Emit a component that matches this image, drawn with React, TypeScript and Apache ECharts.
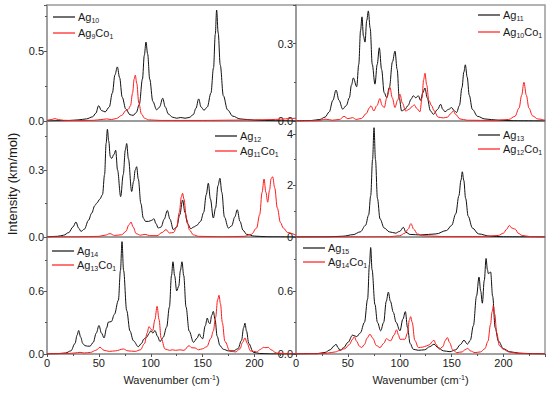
import React, { useEffect, useRef } from 'react';
import * as echarts from 'echarts';

const FONT = '"Liberation Sans", Arial, sans-serif';

// Wavenumber axis (cm^-1)
const xTicks = [0, 50, 100, 150, 200];

// Panel 1: Ag10 / Ag9Co1
const ag10: number[][] = [[0,0],[20,0.003],[30,0.008],[38,0.015],[44,0.03],[47,0.055],[49.8,0.11],[52.5,0.075],[56,0.065],[60,0.1],[63,0.2],[65.5,0.33],[67.8,0.387],[70,0.31],[72.5,0.17],[76,0.085],[80,0.045],[83,0.04],[86,0.06],[89,0.12],[92,0.3],[93.8,0.47],[95.4,0.565],[97,0.48],[99,0.3],[102,0.14],[105.7,0.08],[108.5,0.1],[111.5,0.163],[114,0.1],[117,0.05],[121,0.027],[125,0.02],[129,0.025],[133,0.02],[137,0.025],[141,0.045],[143.5,0.09],[146.2,0.158],[148.5,0.1],[151.3,0.077],[154.5,0.1],[158,0.2],[160.5,0.38],[162.2,0.62],[163.5,0.794],[165,0.63],[167,0.4],[170,0.18],[174,0.08],[179,0.035],[186,0.015],[200,0.006],[220,0.002],[240,0]];
const ag9co1: number[][] = [[0,0.005],[4,0.01],[7.7,0.017],[11,0.01],[16,0.005],[30,0.003],[45,0.005],[52,0.01],[57.5,0.015],[62,0.01],[67,0.018],[72,0.04],[76,0.075],[78.5,0.085],[80.5,0.11],[82.5,0.2],[84,0.3],[85.1,0.328],[86.5,0.27],[88.5,0.13],[91,0.05],[94,0.02],[98,0.008],[110,0.004],[150,0.004],[180,0.006],[200,0.008],[215,0.01],[225,0.013],[235,0.018],[240,0.02]];

// Panel 2: Ag11 / Ag10Co1
const ag11: number[][] = [[0,0],[15,0.002],[23,0.006],[28,0.015],[32,0.035],[35.5,0.08],[38.6,0.12],[41.5,0.08],[45,0.046],[48.5,0.06],[51.4,0.09],[53.5,0.14],[55.3,0.167],[58.5,0.133],[60.5,0.22],[62.2,0.35],[63.6,0.404],[65,0.33],[66.5,0.306],[68.2,0.39],[69.7,0.427],[71.5,0.36],[73.5,0.22],[76.1,0.143],[78.3,0.22],[80.3,0.284],[82.5,0.2],[85,0.11],[87.4,0.091],[90,0.13],[93,0.23],[95.4,0.271],[97.5,0.2],[99.5,0.09],[101.8,0.039],[105,0.045],[108,0.06],[111,0.085],[113,0.098],[115.5,0.09],[117.9,0.098],[120,0.08],[122.3,0.11],[124.3,0.128],[126.5,0.09],[129.5,0.04],[132.4,0.026],[136.5,0.045],[139.4,0.065],[141.5,0.045],[143.6,0.036],[147,0.045],[150,0.052],[152.5,0.04],[154.8,0.033],[157.5,0.06],[160,0.13],[161.8,0.19],[163.2,0.218],[165,0.17],[167,0.1],[170,0.045],[175,0.018],[182,0.008],[195,0.003],[210,0.001],[240,0]];
const ag10co1: number[][] = [[0,0],[20,0.001],[28.9,0.007],[35,0.003],[42,0.006],[46.3,0.018],[50,0.009],[54.6,0.013],[58,0.006],[63,0.01],[68,0.03],[70.5,0.05],[72.3,0.059],[75,0.039],[78,0.06],[80.9,0.087],[83,0.06],[85.1,0.052],[87.5,0.09],[90.6,0.13],[92.8,0.09],[95.4,0.052],[97.8,0.08],[100.2,0.104],[102.5,0.07],[105.7,0.039],[109,0.045],[111.5,0.055],[114,0.063],[116.5,0.048],[119.5,0.036],[121.5,0.09],[123,0.16],[124.3,0.185],[126,0.14],[128,0.08],[130.8,0.059],[133,0.04],[137,0.015],[142,0.012],[146,0.015],[149,0.028],[151.6,0.039],[154,0.025],[158,0.008],[165,0.003],[190,0.002],[205,0.006],[211,0.018],[215,0.05],[217.5,0.1],[219.7,0.15],[222,0.1],[224.5,0.05],[228,0.02],[233,0.008],[240,0.003]];

// Panel 3: Ag12 / Ag11Co1
const ag12: number[][] = [[0,0],[10,0.003],[16,0.008],[21,0.02],[25,0.045],[27.9,0.067],[30.5,0.04],[32.8,0.025],[36,0.035],[40,0.075],[43.1,0.107],[46,0.14],[48,0.152],[51,0.17],[53.5,0.19],[55.5,0.28],[57,0.42],[58.2,0.483],[59.5,0.43],[61,0.36],[62.3,0.352],[64.5,0.37],[66.2,0.389],[68,0.3],[71,0.181],[73.5,0.28],[75.5,0.39],[76.8,0.419],[78.5,0.35],[81.6,0.204],[83.5,0.25],[85,0.3],[86.4,0.315],[88,0.26],[90.5,0.15],[92.8,0.085],[95,0.07],[98,0.07],[101,0.075],[103.1,0.082],[105,0.06],[107.3,0.04],[110,0.045],[113,0.08],[116,0.119],[118.5,0.08],[121.8,0.033],[125,0.045],[128,0.1],[130.7,0.166],[133,0.11],[135.5,0.06],[138.5,0.037],[141.5,0.045],[144.3,0.052],[148,0.07],[151,0.11],[153.5,0.19],[155.5,0.241],[157.5,0.17],[160.3,0.085],[162.5,0.13],[164.8,0.23],[166.7,0.263],[168.5,0.2],[171,0.09],[174.8,0.04],[178,0.05],[181,0.09],[183.4,0.122],[186,0.07],[189,0.03],[192.4,0.012],[200,0.004],[212,0.001],[240,0]];
const ag11co1: number[][] = [[0,0],[30,0.001],[50,0.003],[56,0.008],[60.7,0.015],[65,0.007],[72,0.01],[76,0.025],[79,0.055],[81,0.067],[83,0.045],[86,0.015],[90,0.008],[94.5,0.012],[99,0.006],[106,0.006],[111,0.02],[114.7,0.033],[118,0.018],[122,0.02],[125,0.045],[127.5,0.11],[129.5,0.18],[130.7,0.196],[132,0.17],[134.5,0.08],[137.5,0.03],[141,0.01],[146,0.003],[170,0.001],[190,0.003],[197,0.012],[202,0.04],[205,0.1],[207.3,0.2],[209.2,0.26],[211,0.2],[212.7,0.156],[214.5,0.21],[216,0.262],[217.5,0.27],[219.5,0.22],[222,0.13],[225,0.065],[227.8,0.04],[232,0.02],[240,0.008]];

// Panel 4: Ag13 / Ag12Co1
const ag13: number[][] = [[0,0],[30,0.005],[45,0.03],[55,0.09],[62,0.2],[67,0.45],[70,0.85],[72,1.6],[73.8,3.0],[75.2,4.24],[76.6,3.0],[78.5,1.5],[81,0.7],[85,0.35],[90,0.2],[96,0.15],[100,0.22],[103.5,0.376],[106,0.18],[110,0.1],[120,0.08],[135,0.12],[145,0.25],[150,0.45],[154,0.9],[157,1.6],[159,2.2],[160.3,2.53],[161.7,2.2],[163.5,1.5],[166,0.8],[170,0.35],[176,0.12],[187,0.03],[200,0.01],[240,0]];
const ag12co1: number[][] = [[0,0],[60,0.005],[90,0.01],[100,0.05],[105,0.15],[108,0.3],[110.8,0.52],[113.5,0.3],[117,0.12],[122,0.05],[140,0.02],[180,0.02],[195,0.06],[200,0.15],[203,0.3],[205.6,0.45],[208,0.35],[210,0.32],[211.5,0.3],[214,0.15],[218,0.06],[225,0.02],[240,0.005]];

// Panel 5: Ag14 / Ag13Co1
const ag14: number[][] = [[0,0],[10,0.003],[18,0.01],[23,0.03],[27,0.1],[29,0.18],[30.5,0.225],[32.5,0.16],[34.5,0.1],[36.6,0.08],[39,0.075],[41.4,0.075],[44.5,0.11],[47.5,0.2],[50.1,0.273],[52.5,0.2],[55,0.154],[57.5,0.25],[59.1,0.305],[62,0.31],[65,0.38],[68.8,0.514],[70.8,0.8],[72.3,1.076],[73.8,0.8],[76.8,0.417],[80,0.22],[83.2,0.128],[88,0.07],[91,0.1],[93.5,0.145],[96,0.16],[98.6,0.2],[100.2,0.225],[102,0.2],[104.1,0.225],[106.5,0.17],[108.9,0.119],[112,0.16],[115.3,0.257],[118,0.45],[120,0.75],[121.4,0.883],[123,0.75],[125,0.604],[127,0.65],[128.6,0.8],[130.1,0.883],[131.8,0.75],[134,0.45],[137,0.22],[141.2,0.112],[144.5,0.15],[146.8,0.193],[148.5,0.16],[150,0.145],[152.5,0.27],[154.5,0.344],[156,0.3],[157.1,0.289],[158.8,0.37],[160.3,0.408],[162,0.33],[164,0.17],[166.7,0.08],[170,0.045],[175,0.03],[179.6,0.03],[184,0.05],[187.5,0.13],[189.5,0.25],[190.8,0.295],[192.3,0.22],[194.5,0.1],[198.9,0.016],[205,0.005],[215,0.001],[240,0]];
const ag13co1: number[][] = [[0,0.002],[20,0.004],[27,0.01],[31.8,0.016],[36,0.01],[42,0.015],[47,0.035],[51.1,0.064],[55,0.035],[60,0.025],[66,0.03],[73.6,0.048],[78,0.03],[85,0.025],[90,0.04],[94,0.1],[96.5,0.2],[98.3,0.263],[100,0.24],[101.9,0.225],[104,0.33],[106.1,0.456],[108,0.33],[110,0.15],[113.8,0.048],[118,0.035],[121,0.04],[124,0.035],[128,0.04],[132,0.035],[136.9,0.08],[139.5,0.06],[142.7,0.058],[146,0.04],[150,0.05],[154,0.07],[158,0.15],[160.3,0.22],[162.5,0.35],[164.5,0.52],[165.8,0.562],[167.2,0.48],[169,0.3],[171.5,0.12],[176.4,0.026],[182,0.02],[186,0.05],[188.5,0.11],[190.8,0.154],[193,0.1],[196,0.03],[202,0.02],[206,0.045],[208.5,0.064],[211,0.06],[213.3,0.064],[216,0.04],[221,0.01],[230,0.003],[240,0]];

// Panel 6: Ag15 / Ag14Co1
const ag15: number[][] = [[0,0],[20,0.003],[28,0.015],[33,0.04],[36.5,0.075],[38.6,0.093],[40.5,0.06],[42.4,0.035],[46,0.06],[50,0.11],[54.6,0.179],[57,0.17],[58.5,0.165],[62,0.2],[66,0.3],[69,0.52],[70.8,0.85],[72,1.01],[73.3,0.8],[76.1,0.47],[78.5,0.3],[81.6,0.22],[84.5,0.3],[87,0.5],[89,0.587],[91,0.5],[93.8,0.396],[96.5,0.3],[100.2,0.22],[103,0.33],[105.4,0.402],[107.5,0.25],[110,0.1],[113,0.045],[118,0.035],[124,0.04],[129,0.07],[133,0.093],[137,0.06],[142,0.03],[148.4,0.022],[154,0.04],[158.5,0.09],[161.9,0.131],[165.2,0.093],[168,0.13],[171,0.27],[174,0.55],[176.4,0.73],[178,0.6],[179.6,0.482],[181.5,0.7],[183.2,0.906],[184.5,0.8],[185.4,0.762],[186.5,0.77],[187.6,0.778],[189.5,0.55],[192,0.25],[195,0.124],[200,0.05],[206,0.022],[215,0.008],[230,0.002],[240,0]];
const ag14co1: number[][] = [[0,0],[20,0.002],[30,0.008],[38,0.02],[42.4,0.035],[47,0.05],[51.5,0.09],[54.5,0.14],[56.2,0.163],[58.5,0.12],[61,0.075],[63.3,0.061],[66,0.09],[68.5,0.15],[71.3,0.188],[74,0.15],[77.5,0.08],[81,0.061],[84.5,0.1],[87.4,0.147],[89.5,0.13],[91.2,0.124],[94.5,0.18],[97,0.23],[98.8,0.18],[100.2,0.14],[102.5,0.14],[105,0.14],[107.5,0.2],[109.2,0.32],[110.5,0.354],[112,0.3],[114.5,0.13],[118,0.061],[122,0.065],[125.9,0.077],[129,0.09],[131.5,0.12],[133,0.131],[135,0.09],[138.2,0.045],[141.5,0.07],[144,0.13],[145.9,0.156],[148,0.11],[151,0.04],[154.8,0.013],[160,0.02],[163,0.04],[165.5,0.054],[168,0.03],[172.5,0.013],[178,0.02],[182,0.05],[185,0.12],[187.5,0.28],[189,0.4],[190.2,0.46],[191.5,0.38],[193.5,0.2],[196,0.08],[199.8,0.045],[205,0.02],[212,0.008],[225,0.002],[240,0]];

// Legend labels (subscripts)
const blackNames = [['10'], ['11'], ['12'], ['13'], ['14'], ['15']];
const redNames = [['9', '1'], ['10', '1'], ['11', '1'], ['12', '1'], ['13', '1'], ['14', '1']];

// Y scale settings per panel
const yMax = [0.83, 0.45, 0.52, 4.5, 1.12, 1.11];
const yInterval = [0.5, 0.3, 0.3, 2, 0.6, 0.6];
const yDecimals = [1, 1, 1, 0, 1, 1];

const blackData = [ag10, ag11, ag12, ag13, ag14, ag15];
const redData = [ag9co1, ag10co1, ag11co1, ag12co1, ag13co1, ag14co1];

// Layout (pixels)
const layout = [
  { left: 47, top: 5, height: 116, bottom: false, lx: 53, ly: 17, dy: 16 },
  { left: 296, top: 5, height: 116, bottom: false, lx: 478, ly: 15, dy: 17 },
  { left: 47, top: 121, height: 116, bottom: false, lx: 215, ly: 136, dy: 15 },
  { left: 296, top: 121, height: 116, bottom: false, lx: 478, ly: 135, dy: 14 },
  { left: 47, top: 237, height: 117, bottom: true, lx: 52, ly: 251, dy: 14 },
  { left: 296, top: 237, height: 117, bottom: true, lx: 303, ly: 248, dy: 14 },
];
const PW = 249;
const AXIS_GRAY = '#9a9a9a';
const TXT = '#1a1a1a';
const RED = '#ff1a1a';

const rich = {
  a: { fontSize: 11, fontFamily: FONT, fill: TXT, lineHeight: 13 },
  s: { fontSize: 7, fontFamily: FONT, fill: TXT, lineHeight: 4, verticalAlign: 'bottom' as const },
  t: { fontSize: 11, fontFamily: FONT, fill: TXT, lineHeight: 13 },
  tp: { fontSize: 7, fontFamily: FONT, fill: TXT, lineHeight: 4, verticalAlign: 'top' as const },
};

function buildOption() {
  const grid = layout.map((l) => ({
    left: l.left, top: l.top, width: PW, height: l.height,
    show: true, borderColor: AXIS_GRAY, borderWidth: 1.5, backgroundColor: 'transparent',
  }));
  const xAxis = layout.map((l, i) => ({
    type: 'value', gridIndex: i, min: 0, max: 240, interval: 50,
    axisLine: { show: true, lineStyle: { color: AXIS_GRAY, width: 1.5 } },
    splitLine: { show: false },
    axisTick: { show: l.bottom, length: 3, lineStyle: { color: '#555' } },
    minorTick: { show: l.bottom, splitNumber: 2, length: 2, lineStyle: { color: '#555' } },
    axisLabel: {
      show: l.bottom, margin: 3, fontSize: 11, color: TXT, fontFamily: FONT,
      showMaxLabel: false,
      formatter: (v: number) => (xTicks.includes(v) ? String(v) : ''),
    },
  }));
  const yAxis = layout.map((l, i) => ({
    type: 'value', gridIndex: i, min: 0, max: yMax[i], interval: yInterval[i],
    axisLine: { show: true, lineStyle: { color: AXIS_GRAY, width: 1.5 } },
    splitLine: { show: false },
    axisTick: { show: true, length: 3, lineStyle: { color: '#555' } },
    minorTick: { show: true, splitNumber: 2, length: 2, lineStyle: { color: '#555' } },
    axisLabel: {
      margin: 3, fontSize: 11, color: TXT, fontFamily: FONT, showMaxLabel: false,
      formatter: (v: number) => {
        const r = v / yInterval[i];
        if (Math.abs(r - Math.round(r)) > 1e-6) return '';
        return v.toFixed(yDecimals[i]);
      },
    },
  }));
  const series: any[] = [];
  layout.forEach((_, i) => {
    series.push({
      type: 'line', xAxisIndex: i, yAxisIndex: i, data: blackData[i], showSymbol: false,
      smooth: 0.35, smoothMonotone: 'x', lineStyle: { color: '#111', width: 1 }, silent: true,
    });
    series.push({
      type: 'line', xAxisIndex: i, yAxisIndex: i, data: redData[i], showSymbol: false,
      smooth: 0.35, smoothMonotone: 'x', lineStyle: { color: RED, width: 1 }, silent: true,
    });
  });
  const graphic: any[] = [];
  layout.forEach((l, i) => {
    const lineLen = 22;
    const tx = l.lx + lineLen + 3;
    graphic.push({ type: 'rect', z: 100, shape: { x: l.lx, y: l.ly - 0.6, width: lineLen, height: 1.2 }, style: { fill: '#111' } });
    graphic.push({ type: 'rect', z: 100, shape: { x: l.lx, y: l.ly + l.dy - 0.6, width: lineLen, height: 1.2 }, style: { fill: RED } });
    graphic.push({
      type: 'text', x: tx, y: l.ly, z: 100,
      style: { text: `{a|Ag}{s|${blackNames[i][0]}}`, rich, align: 'left', verticalAlign: 'middle' },
    });
    graphic.push({
      type: 'text', x: tx, y: l.ly + l.dy, z: 100,
      style: { text: `{a|Ag}{s|${redNames[i][0]}}{a|Co}{s|${redNames[i][1]}}`, rich, align: 'left', verticalAlign: 'middle' },
    });
  });
  [47 + PW / 2, 296 + PW / 2].forEach((cx) => {
    graphic.push({
      type: 'text', x: cx, y: 380,
      style: { text: '{t|Wavenumber (cm}{tp|-1}{t|)}', rich, align: 'center', verticalAlign: 'middle' },
    });
  });
  graphic.push({
    type: 'text', x: 12, y: 184, rotation: Math.PI / 2,
    style: { text: 'Intensity (km/mol)', fontSize: 13, fontFamily: FONT, fill: TXT, align: 'center', verticalAlign: 'middle' },
  });
  return { animation: false, backgroundColor: '#fff', grid, xAxis, yAxis, series, graphic };
}

export default function App() {
  const ref = useRef<HTMLDivElement>(null);
  useEffect(() => {
    if (!ref.current) return;
    const chart = echarts.init(ref.current, null, { renderer: 'svg' });
    chart.setOption(buildOption() as any);
    return () => chart.dispose();
  }, []);
  return <div ref={ref} style={{ position: 'absolute', left: 0, top: 0, width: 550, height: 393 }} />;
}
